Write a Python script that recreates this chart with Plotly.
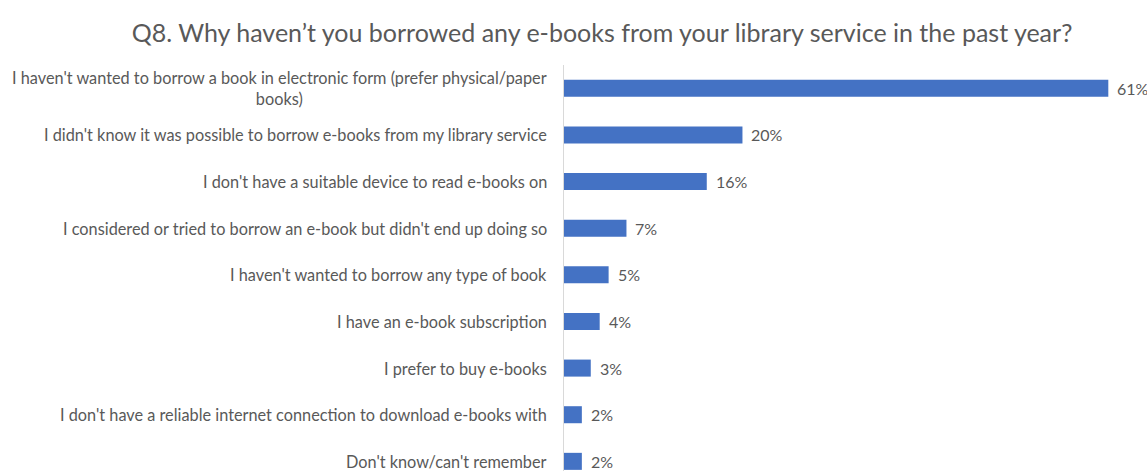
import plotly.graph_objects as go

# Survey responses (share of respondents, %)
categories = [
    "I haven't wanted to borrow a book in electronic form (prefer physical/paper<br>books)",
    "I didn't know it was possible to borrow e-books from my library service",
    "I don't have a suitable device to read e-books on",
    "I considered or tried to borrow an e-book but didn't end up doing so",
    "I haven't wanted to borrow any type of book",
    "I have an e-book subscription",
    "I prefer to buy e-books",
    "I don't have a reliable internet connection to download e-books with",
    "Don't know/can't remember",
]
values = [61, 20, 16, 7, 5, 4, 3, 2, 2]
value_labels = ["61%", "20%", "16%", "7%", "5%", "4%", "3%", "2%", "2%"]

title_text = "Q8. Why haven\u2019t you borrowed any e-books from your library service in the past year?"

FONT = "Lato"
TEXT_COLOR = "#595959"
BAR_COLOR = "#4472C4"

W, H = 1147, 471

fig = go.Figure()
fig.add_trace(go.Bar(
    x=values,
    y=list(range(len(categories))),
    orientation="h",
    marker=dict(color=BAR_COLOR, line=dict(width=0)),
    width=0.365,
    hoverinfo="skip",
))

# Category labels as annotations so wrapped lines stay centred
for i, cat in enumerate(categories):
    fig.add_annotation(
        x=0, xref="paper", y=i, yref="y",
        text=cat, showarrow=False,
        xanchor="right", yanchor="middle", align="center",
        xshift=-15,
        font=dict(family=FONT, size=16.3, color=TEXT_COLOR),
    )

# Value labels just past the end of each bar
for i, (v, lab) in enumerate(zip(values, value_labels)):
    fig.add_annotation(
        x=v, xref="x", y=i, yref="y",
        text=lab, showarrow=False,
        xanchor="left", yanchor="middle",
        xshift=7,
        font=dict(family=FONT, size=16, color=TEXT_COLOR),
    )

fig.update_layout(
    width=W, height=H,
    margin=dict(l=564, r=3, t=65, b=0),
    paper_bgcolor="white",
    plot_bgcolor="white",
    showlegend=False,
    title=dict(
        text=title_text,
        x=602 / W, xanchor="center",
        y=1 - 33 / H, yref="container", yanchor="middle",
        font=dict(family=FONT, size=25, color=TEXT_COLOR),
    ),
    xaxis=dict(
        range=[0, 65],
        showgrid=False, zeroline=False, showticklabels=False,
        showline=False, ticks="",
    ),
    yaxis=dict(
        range=[8.207, -0.5],
        showgrid=False, zeroline=False, showticklabels=False,
        showline=True, linecolor="#d9d9d9", linewidth=1, ticks="",
    ),
)

fig.write_html("out.html")
